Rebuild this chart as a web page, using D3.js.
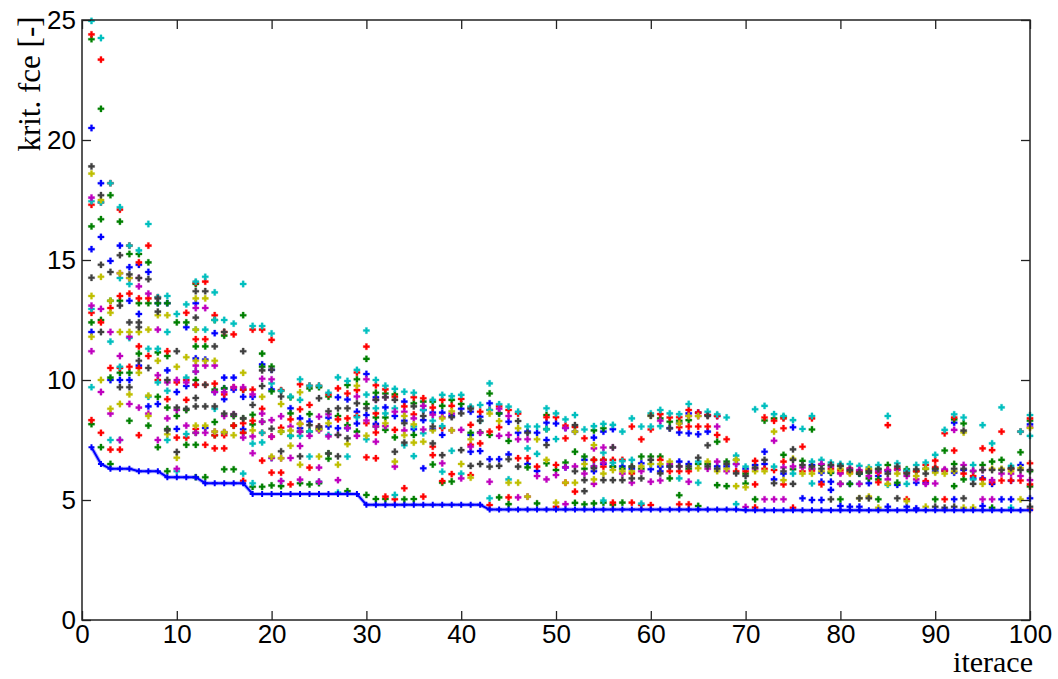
<!DOCTYPE html>
<html>
<head>
<meta charset="utf-8">
<script src="https://cdn.jsdelivr.net/npm/d3@7"></script>
<style>
  body { margin: 0; background: #ffffff; }
  svg { display: block; }
</style>
</head>
<body>
<svg id="chart" width="1058" height="679"></svg>
<script>
// Tick values
const xTicks = [0, 10, 20, 30, 40, 50, 60, 70, 80, 90, 100];
const yTicks = [0, 5, 10, 15, 20, 25];

// Best criterion value found so far, iterations 1..100
const best = [
  7.2, 6.5, 6.3, 6.3, 6.3, 6.2, 6.2, 6.2, 5.95, 5.95,
  5.95, 5.95, 5.7, 5.7, 5.7, 5.7, 5.7, 5.25, 5.25, 5.25,
  5.25, 5.25, 5.25, 5.25, 5.25, 5.25, 5.25, 5.25, 5.25, 4.8,
  4.8, 4.8, 4.8, 4.8, 4.8, 4.8, 4.8, 4.8, 4.8, 4.8,
  4.8, 4.8, 4.6, 4.6, 4.6, 4.6, 4.6, 4.6, 4.6, 4.6,
  4.6, 4.6, 4.6, 4.6, 4.6, 4.6, 4.6, 4.6, 4.6, 4.6,
  4.6, 4.6, 4.6, 4.6, 4.6, 4.6, 4.6, 4.6, 4.6, 4.57,
  4.57, 4.57, 4.57, 4.57, 4.57, 4.57, 4.57, 4.57, 4.57, 4.57,
  4.57, 4.57, 4.57, 4.57, 4.57, 4.57, 4.57, 4.57, 4.57, 4.57,
  4.57, 4.57, 4.57, 4.57, 4.57, 4.57, 4.57, 4.57, 4.57, 4.57
];

// Population members' criterion values per iteration, grouped by plot colour
const blue = [
  [20.5,15.45,12.0],[18.2,15.96],[14.96,10.0],[15.6,10.0],[14.7,13.3,10.0],[14.8,12.75,10.6],[14.5,8.9],[13.2,9.0],[13.2,10.4],[9.5,7.96],
  [12.2,9.75],[13.2,10.9,9.8],[10.85,8.0],[11.95,9.5],[10.1,9.65,9.2],[10.1,9.6],[9.3,7.95],[9.3],[10.65],[10.42,9.61],
  [],[8.82],[8.4,7.99],[8.27],[8.0],[8.43,8.06],[9.28,7.99],[9.19,7.99],[8.68,8.19],[10.25,8.54],
  [9.28,8.17],[8.86],[8.5],[9.1,8.3],[7.95],[8.75,8.33,6.32],[8.64,7.95],[8.64,7.71],[8.5],[8.8],
  [8.68,7.71,7.01],[8.47,7.04],[9.03,6.7],[8.61,6.7],[8.26,6.9],[7.8],[7.85,6.5],[7.8,6.21],[8.22,7.5],[8.19],
  [8.0,6.36],[7.85],[6.67],[7.6,6.2],[7.85,6.5],[7.95,6.39],[6.4],[6.3],[6.53],[6.28],
  [6.39,6.2],[7.99,6.4],[8.2,7.81,6.6],[8.61,7.78,6.5],[8.64,7.74],[8.54,7.85],[8.5,6.4],[6.4],[6.5],[6.3],
  [6.46],[7.01,6.5],[5.86],[6.1],[8.03],[5.07],[6.46,5.0],[6.14,5.76,5.0],[6.14,5.76,5.42],[4.75],
  [5.67,4.72],[6.1,4.72],[5.7],[6.0],[6.2,4.72],[5.63],[6.2,4.72],[5.72,4.65],[5.72],[6.2],
  [6.22],[8.22,6.14,5.03],[6.25],[5.9],[5.9,4.75],[5.67],[5.03],[5.8,5.03],[6.46],[8.15,5.07]
];
const green = [
  [24.2,16.4,12.4,8.16],[21.3,16.7,12.5,7.2],[17.7,13.3,10.1,6.5],[16.6,13.3,10.3],[15.25,10.3,8.3],[15.25,13.2,11.1],[14.9,13.2,8.1],[13.2,11.15,9.3,7.2],[13.2,11.0,8.85,7.96,6.2],[12.4,8.5],
  [12.4,8.75,7.3],[14.0,11.4,10.0,7.8,7.3,5.95],[11.4,5.95],[12.5,9.6,8.25,7.7],[11.85,9.65,7.8,6.28],[8.5,8.1,6.28],[12.7,9.6,8.4,7.8],[8.55,8.15,5.55],[11.1,10.55,8.26,5.55],[10.56,9.53,5.61],
  [9.55,7.85,5.58],[9.28,8.61,7.67],[7.85,5.7],[9.65,8.58,7.85,5.65],[9.7,7.95,5.7],[9.31,6.94,6.72],[8.5],[9.79,8.12,5.37],[10.03,7.85],[10.88,9.0,5.21],
  [9.47,8.44,8.06,5.04],[9.44,8.44,7.92,5.04],[9.4,7.61],[5.03],[9.03,7.71,5.04],[9.1],[9.1,6.48],[8.92,5.72],[9.17,5.77],[9.0],
  [7.8],[7.82],[9.44,7.71],[8.61,5.11],[7.46,4.83],[],[6.36],[4.86],[8.54,7.95,6.53],[6.25],
  [6.56],[7.01,4.88],[6.81,6.3,4.82],[7.9,6.67,4.86],[7.99,6.67,4.89],[6.39,4.8],[6.3,4.89],[6.39],[6.81,6.3],[6.81],
  [8.4,6.81],[8.26,5.9],[8.3,5.2],[8.33,6.3],[6.5,4.75],[6.5],[7.43,5.62],[6.6,5.58],[6.67],[6.1,5.69],
  [5.03],[8.31],[8.4],[8.45,6.88],[6.28],[6.63],[7.94,6.3],[6.46],[6.14],[6.42,5.67,5.03],
  [6.2,5.67],[6.1],[6.14,5.9],[6.3,5.86,5.03],[6.46],[5.72],[6.28],[6.2],[6.3],[6.3,5.03],
  [7.06],[8.36,6.5,5.58],[8.19,5.86],[6.2],[6.46],[6.6,4.68],[6.67],[6.3],[6.99],[8.3,6.2,5.56]
];
const red = [
  [24.4,17.3,12.8,8.33],[23.35,17.4,12.4,7.8],[18.2,13.0,10.5,7.1],[17.1,13.5,10.5,7.1],[15.6,13.6,10.55],[14.9,13.4,11.4,10.5,7.7],[15.6,13.4,11.0],[13.45,10.0],[11.2,9.2],[9.9,7.6],
  [12.8,10.0,9.17,7.6],[14.05,11.7,9.8,7.96],[14.1,11.7,9.8,7.3],[12.7,9.85,7.7,7.15],[12.0,9.4,7.7,7.15],[11.9,9.7,8.1],[9.6,8.2,7.8,5.8],[12.1,9.6,8.3],[12.1,8.8,7.8,6.64],[11.67,7.64,6.14],
  [9.58,8.01,6.14],[8.36,5.65],[9.82,8.78,8.17],[9.76,8.96,6.35],[9.76,8.06],[9.4],[9.65,8.36],[9.44,8.4],[10.31,9.58,8.5],[11.39,8.2,6.78],
  [9.78,8.61,7.81,6.74],[9.61,5.14],[9.3,7.92,5.03],[8.9,5.49],[9.28,8.57],[9.24,5.14],[8.85,7.22,6.87],[9.17,8.0,5.79],[8.92,6.08],[9.21],
  [8.85,8.13,7.3,6.04],[8.68,7.36],[8.75,7.85,4.79],[8.9,8.03],[8.75,5.11],[8.6,6.74],[6.74],[6.39],[8.45],[8.45,6.46,4.72],
  [8.1,7.57,5.72],[8.04,5.35],[7.57],[6.67],[6.67,6.39],[6.67,4.89],[6.67],[8.06,6.11,4.89],[7.53,4.79],[7.94,4.79],
  [8.58,6.67],[8.44,6.2],[8.45,8.03,6.2,4.82],[8.75,8.06,6.2,4.82],[8.64,8.06],[8.54,8.06],[8.5,7.71],[7.53],[6.2],[6.2],
  [6.63,5.65,4.69],[8.44,6.3],[8.3,6.25],[8.4,7.99,6.6,5.65],[4.68],[7.22,6.2],[8.4,6.22],[5.65],[6.3],[6.25,6.14],
  [6.32,6.14],[6.2],[6.25],[6.14,5.74],[8.12,6.25],[6.3],[6.14,5.03],[6.2],[6.46,5.79],[6.64,6.36],
  [7.78,6.22,5.03],[8.44,7.06],[6.1],[6.0],[7.15,5.86],[7.08,5.74],[7.85,5.81],[6.3,5.81],[7.85,5.81],[8.4,6.53,5.65,4.6]
];
const cyan = [
  [24.96,17.45,12.96,9.7],[24.25,17.4],[18.2,11.6,7.5],[17.2,14.25,10.55,7.5],[15.6,14.0,11.75],[15.4],[16.5,11.3,9.3],[13.45,11.3,9.9],[13.5,12.0,9.55,7.5],[12.75,6.2],
  [13.15,10.1,7.75],[14.1,12.1,10.35],[14.3,12.1],[13.65,12.5,8.8],[12.5],[12.35],[14.0,6.1],[12.25,7.35,5.7],[12.25,7.8,7.4],[11.94,9.86,6.75],
  [9.55,5.79],[9.31,7.67],[10.03,9.17,7.67],[9.76,7.85,6.81],[9.76,5.76],[9.47,7.71],[10.11,5.31],[9.96,6.81],[10.42,8.45],[12.06,9.39,7.53],
  [10.0,8.82],[9.76,8.61],[9.63,8.82,5.21],[9.51,7.28],[9.47,8.06,6.83],[8.75,7.78],[9.17,8.3],[9.38,8.08,6.18],[9.33,7.05],[9.38,6.1],
  [8.89],[8.96,8.3],[9.86,8.75,5.07],[8.99],[8.89,5.86],[8.68],[8.06,7.15],[8.06,6.92],[8.82,7.95],[8.61,7.54],
  [8.36],[8.54],[7.94],[8.08,6.4],[8.17,6.97,4.98],[8.13,6.55],[7.85,6.62],[8.4,6.67],[8.06,4.85],[8.61,8.06,6.5],
  [8.75,8.08],[8.61],[8.58,5.9],[9.0],[6.6,5.72],[8.68],[8.57],[8.44],[6.85,4.83],[6.39],
  [8.78],[8.92],[8.58,6.39],[8.5],[8.33,6.1],[7.96],[8.5,6.6,5.69],[6.67],[6.56],[6.5],
  [6.5],[6.42,5.67],[6.36],[6.46],[8.5,5.63],[6.53],[6.22,5.67],[6.46],[6.56],[6.88],
  [7.92],[8.57],[8.44],[6.46,5.86],[8.12],[7.36],[8.86],[6.42,4.68],[7.85],[8.54,7.67]
];
const magenta = [
  [17.6,13.1,11.2],[12.96,9.5],[12.0,8.6],[14.45,11.0,7.5],[14.25,11.8,9.0],[14.25,13.9,8.85],[13.6,8.6],[12.1,10.2,7.5],[9.9,8.4],[10.0,8.75,6.3],
  [9.9,8.1],[13.0,10.6,10.35,7.8],[13.0,10.6,7.8],[10.6,9.5,7.85],[9.5,8.5,7.83],[9.7,8.57],[9.7,7.6],[9.4,7.65,6.95],[10.05,8.6,8.26],[10.03,8.33,7.64,6.75],
  [8.49,6.74,5.79],[8.06,6.75],[7.85,7.25,5.85],[7.67],[8.47,7.9,6.35,5.76],[8.57,7.65],[7.71,5.83],[8.0],[9.31,7.67],[10.03,8.31],
  [9.17,8.06,7.43],[9.28,8.08],[8.68,6.39],[8.68,7.9],[8.4],[8.92,7.94],[8.55],[8.45,6.53],[8.6,7.9],[7.92,5.9],
  [7.22],[7.8],[5.76],[8.8,7.67],[8.5,7.71],[7.53,5.11],[7.53,5.14],[6.0],[5.86],[6.04],
  [8.0,6.36,4.83],[6.4],[6.1],[7.15,6.4,5.67],[7.19,6.55],[7.19],[6.1],[5.72],[6.2],[5.76],
  [8.3,5.81],[6.5],[6.4],[8.5,5.76],[8.5],[6.3],[8.06,6.6],[6.2],[6.5],[4.71],
  [6.3],[5.03],[7.47,5.03],[6.36,5.03],[6.4],[6.36],[6.3],[6.5],[6.4],[6.1,5.67],
  [6.3],[6.25,5.67],[6.0],[6.2],[6.25,5.86],[6.25],[6.0],[5.86],[5.67],[5.69],
  [6.28],[7.92],[6.46],[6.22],[6.25,5.03],[5.83,5.03],[6.1],[6.1],[6.0],[8.03,5.83]
];
const olive = [
  [18.6,13.5,11.8],[17.5,14.3,10.0],[13.3,12.8,8.8],[14.45,12.0,9.0],[14.25,12.0,9.4],[12.0,10.3],[12.1,9.35,8.5],[12.7,10.8],[12.7,7.74],[10.55,6.76],
  [10.95],[13.4,12.1,10.8,8.1],[13.4,10.8,8.1],[10.8,7.85],[7.83],[7.7],[10.3],[7.9],[9.3],[6.81],
  [9.0,7.85,6.74],[7.89,7.26],[9.49,8.17,6.47],[],[7.95,6.81],[8.2],[6.47],[7.33],[9.76],[7.68],
  [],[8.2],[6.6],[8.5,7.7],[8.15,7.39],[7.43],[7.9],[8.4],[8.7,7.9],[6.5],
  [7.53,5.93],[],[8.6],[8.29],[5.72],[7.99,5.72],[5.14],[7.53],[6.67],[4.89],
  [5.72],[7.85,5.72],[6.5],[7.29,5.86],[6.1],[6.25],[6.2],[6.2],[6.4],[8.51,6.5],
  [6.5],[6.6],[8.19],[8.5],[8.5,6.32],[6.6],[6.2],[6.3],[6.67,5.58],[5.53],
  [6.2],[6.2],[7.85],[5.83],[6.72],[6.1],[6.1],[6.2],[6.2],[6.3],
  [6.1],[5.07],[6.3,5.14],[4.68],[5.67],[6.1],[4.95],[6.0],[6.3,4.72],[6.14],
  [6.1],[6.2],[7.81,4.68],[4.69],[5.67],[6.3],[6.3],[6.2],[6.33,5.03],[8.0]
];
const gray = [
  [18.9,14.26],[17.7,14.8,12.0],[14.5],[15.2,13.1,9.7],[14.4,12.4,9.7],[14.25,12.4,12.2,10.8],[14.2,10.5],[13.4,12.85],[10.0,7.9],[11.2,8.85,7.0],
  [8.8],[13.7,12.6,9.25,8.9],[13.7,9.8,8.9],[11.4,8.9],[12.0,8.6],[8.57],[11.2,8.4],[8.96],[10.4,9.75],[10.42,7.97],
  [9.31,7.03],[],[6.82],[8.12],[9.24,8.06],[8.7,6.94],[8.82,7.71,6.82],[8.82,7.57],[9.03],[8.82],
  [9.17],[9.28],[9.17,7.01],[8.2,7.39],[8.9],[8.5],[8.06,7.36],[6.87],[8.45],[8.61,7.08],
  [8.8,6.42],[8.3,6.5],[6.39],[6.42],[6.7],[8.29,6.39],[7.8],[],[7.29],[],
  [],[8.12,6.2],[5.83,5.37],[6.32],[5.83],[7.19,5.83],[5.83],[6.39,5.9],[5.9],[8.51,6.67],
  [6.11],[7.99,6.4],[6.4],[6.4],[6.76],[8.5,7.28,6.4],[6.3],[6.5],[6.11],[6.0],
  [6.35],[6.67],[5.7],[6.2],[7.11,6.67,5.67],[6.46],[6.4],[6.3],[6.46,5.03],[6.42],
  [6.25],[6.14,5.07],[6.2,5.07],[6.28],[6.1],[6.39,5.07],[6.1],[6.28],[6.1],[6.3,4.72],
  [4.68],[6.3,4.72],[7.89,6.3,5.07],[5.67],[6.25],[6.25],[6.25],[6.33],[6.25],[6.25,4.72]
];

const seriesList = [
  { values: blue,    color: "#0000ff" },
  { values: green,   color: "#008000" },
  { values: red,     color: "#ff0000" },
  { values: cyan,    color: "#00bfbf" },
  { values: magenta, color: "#bf00bf" },
  { values: olive,   color: "#bfbf00" },
  { values: gray,    color: "#404040" }
];

const svg = d3.select("#chart");
const W = 1058, H = 679;
svg.append("rect").attr("width", W).attr("height", H).attr("fill", "#ffffff");

const x = d3.scaleLinear().domain([0, 100]).range([82, 1030]);
const y = d3.scaleLinear().domain([0, 25]).range([620, 20]);

const tickFont = "'Liberation Sans', Arial, sans-serif";
const labelFont = "'Liberation Serif', 'Times New Roman', serif";

// Scatter of all population members
const cross = d3.symbol().type(d3.symbolCross).size(22);
const dots = svg.append("g").attr("class", "population");
seriesList.forEach(s => {
  const pts = [];
  s.values.forEach((vals, i) => vals.forEach(v => pts.push([i + 1, v])));
  dots.append("g")
    .selectAll("path")
    .data(pts)
    .join("path")
    .attr("d", cross)
    .attr("transform", d => `translate(${x(d[0])},${y(d[1])})`)
    .attr("fill", s.color)
    .attr("stroke", s.color)
    .attr("stroke-opacity", 0.3)
    .attr("stroke-width", 1);
});

// Best-so-far curve
const bestPts = best.map((v, i) => [i + 1, v]);
const bestLine = d3.line().x(d => x(d[0])).y(d => y(d[1]));
const bestG = svg.append("g").attr("class", "best");
bestG.append("path")
  .datum(bestPts)
  .attr("fill", "none")
  .attr("stroke", "#0000ff")
  .attr("stroke-opacity", 0.3)
  .attr("stroke-width", 4)
  .attr("d", bestLine);
bestG.append("path")
  .datum(bestPts)
  .attr("fill", "none")
  .attr("stroke", "#0000ff")
  .attr("stroke-width", 2)
  .attr("d", bestLine);
bestG.selectAll("path.m")
  .data(bestPts)
  .join("path")
  .attr("class", "m")
  .attr("d", d3.symbol().type(d3.symbolCross).size(20))
  .attr("transform", d => `translate(${x(d[0])},${y(d[1])})`)
  .attr("fill", "#0000ff");

// Axes with inward ticks on all four sides
const tickLen = 9;
const axisColor = "#222";
function styleAxis(g) {
  g.select(".domain").remove();
  g.selectAll(".tick line").attr("stroke", axisColor).attr("stroke-width", 1.3);
  g.selectAll(".tick text")
    .attr("fill", "#000")
    .style("font-family", tickFont)
    .style("font-size", "26px");
}

svg.append("g")
  .attr("transform", "translate(0,620)")
  .call(d3.axisBottom(x).tickValues(xTicks).tickSizeInner(-tickLen).tickSizeOuter(0).tickPadding(5).tickFormat(d3.format("d")))
  .call(styleAxis);
svg.append("g")
  .attr("transform", "translate(0,20)")
  .call(d3.axisTop(x).tickValues(xTicks).tickSizeInner(-tickLen).tickSizeOuter(0).tickFormat(""))
  .call(styleAxis);
svg.append("g")
  .attr("transform", "translate(82,0)")
  .call(d3.axisLeft(y).tickValues(yTicks).tickSizeInner(-tickLen).tickSizeOuter(0).tickPadding(6).tickFormat(d3.format("d")))
  .call(styleAxis);
svg.append("g")
  .attr("transform", "translate(1030,0)")
  .call(d3.axisRight(y).tickValues(yTicks).tickSizeInner(-tickLen).tickSizeOuter(0).tickFormat(""))
  .call(styleAxis);

// Plot box
svg.append("rect")
  .attr("x", 82).attr("y", 20)
  .attr("width", 1030 - 82).attr("height", 600)
  .attr("fill", "none")
  .attr("stroke", axisColor)
  .attr("stroke-width", 1.5);

// Axis titles
svg.append("text")
  .attr("x", 1033).attr("y", 672)
  .attr("text-anchor", "end")
  .style("font-family", labelFont)
  .style("font-size", "30px")
  .attr("fill", "#000")
  .text("iterace");

svg.append("text")
  .attr("transform", "translate(40,84) rotate(-90)")
  .attr("text-anchor", "middle")
  .style("font-family", labelFont)
  .style("font-size", "31px")
  .attr("fill", "#000")
  .text("krit. fce [-]");
</script>
</body>
</html>
